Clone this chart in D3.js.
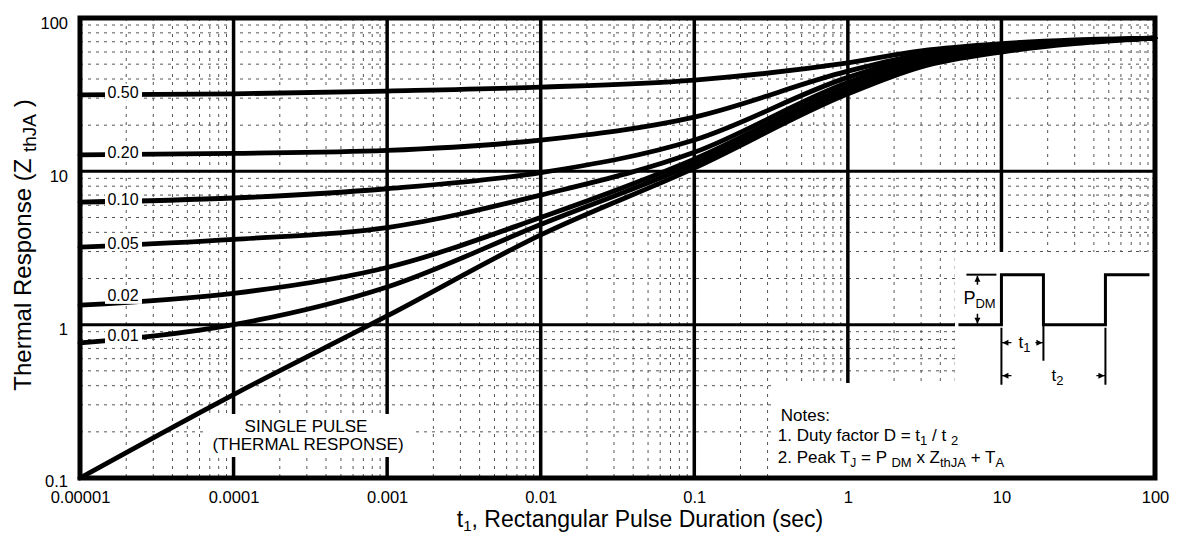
<!DOCTYPE html>
<html><head><meta charset="utf-8">
<script src="https://cdn.jsdelivr.net/npm/d3@7"></script>
<style>body{margin:0;background:#fff} svg{display:block} text{font-family:"Liberation Sans",Arial,Helvetica,sans-serif;fill:#000}</style>
</head><body><svg id="c" width="1193" height="537"></svg>
<script>
// ---- data ----
const durations = [1e-5, 1e-4, 1e-3, 1e-2, 1e-1, 1, 3, 10, 30, 100];
const dutyLabels = ["0.50", "0.20", "0.10", "0.05", "0.02", "0.01"];
const d050 = [31.5, 32, 33.4, 35.4, 39.4, 51, 61, 68, 72, 74];
const d020 = [12.8, 13.1, 13.7, 16, 22.6, 45, 58, 66, 71, 74];
const d010 = [6.3, 6.7, 7.7, 9.8, 16, 41, 56, 65, 70.5, 74];
const d005 = [3.2, 3.6, 4.3, 7.0, 13.3, 38, 54, 64, 70, 74];
const d002 = [1.34, 1.6, 2.36, 5.0, 12, 35.5, 51, 62, 69.5, 74];
const d001 = [0.76, 1.0, 1.76, 4.5, 11.2, 34, 50, 61, 69, 74];
const singlePulse = [0.1, 0.35, 1.14, 3.85, 10.5, 32, 48, 60, 68, 74];
const xTickValues = [1e-5, 1e-4, 1e-3, 1e-2, 1e-1, 1, 10, 100];
const xTickLabels = ["0.00001", "0.0001", "0.001", "0.01", "0.1", "1", "10", "100"];
const yTickValues = [0.1, 1, 10, 100];
const yTickLabels = ["0.1", "1", "10", "100"];

const dutySeries = [d050, d020, d010, d005, d002, d001];

const svg = d3.select("#c");
const x = d3.scaleLog().domain([1e-5, 100]).range([80, 1155]);
const y = d3.scaleLog().domain([0.1, 100]).range([478, 18]);
const X0 = x.range()[0], X1 = x.range()[1], Y0 = y.range()[0], Y1 = y.range()[1];

// ---- minor grid ----
const minorX = [], minorY = [];
for (let e = -5; e < 2; e++) for (let k = 2; k < 10; k++) minorX.push(k * Math.pow(10, e));
for (let e = -1; e < 2; e++) for (let k = 2; k < 10; k++) minorY.push(k * Math.pow(10, e));
const gMinor = svg.append("g").attr("stroke", "#555").attr("stroke-width", 1).attr("stroke-dasharray", "3,5");
gMinor.selectAll("line.vx").data(minorX).join("line")
  .attr("x1", d => x(d)).attr("x2", d => x(d)).attr("y1", Y1).attr("y2", Y0);
gMinor.selectAll("line.hy").data(minorY).join("line")
  .attr("y1", d => y(d)).attr("y2", d => y(d)).attr("x1", X0).attr("x2", X1);

// ---- major grid ----
const gMajor = svg.append("g").attr("stroke", "#000");
gMajor.selectAll("line.v").data([1e-4, 1e-3, 1e-2, 1e-1, 1, 10]).join("line")
  .attr("x1", d => x(d)).attr("x2", d => x(d)).attr("y1", Y1).attr("y2", Y0).attr("stroke-width", 3.5);
gMajor.selectAll("line.h").data([1, 10]).join("line")
  .attr("y1", d => y(d)).attr("y2", d => y(d)).attr("x1", X0).attr("x2", X1).attr("stroke-width", 3);

// ---- white masks (text areas) ----
svg.append("rect").attr("x", 205).attr("y", 414).attr("width", 210).attr("height", 43).attr("fill", "#fff");
svg.append("polygon").attr("fill", "#fff")
  .attr("points", [[955, 252], [X1 - 2, 252], [X1 - 2, Y0 - 2], [776, Y0 - 2], [776, 383], [955, 383]].map(p => p.join(",")).join(" "));

// ---- curves ----
const line = d3.line().x(d => x(d[0])).y(d => y(d[1])).curve(d3.curveMonotoneX);
const allSeries = dutySeries.concat([singlePulse]);
svg.append("g").selectAll("path").data(allSeries).join("path")
  .attr("d", s => line(durations.map((t, i) => [t, s[i]])))
  .attr("fill", "none").attr("stroke", "#000").attr("stroke-width", 4.8).attr("stroke-linecap", "round");

// ---- frame ----
svg.append("rect").attr("x", X0).attr("y", Y1).attr("width", X1 - X0).attr("height", Y0 - Y1)
  .attr("fill", "none").attr("stroke", "#000").attr("stroke-width", 5);

// ---- duty labels on curves ----
const labX = 123;
const lx = Math.log10(x.invert(labX));
const gLab = svg.append("g");
dutySeries.forEach((s, i) => {
  const l0 = Math.log10(s[0]), l1 = Math.log10(s[1]);
  const ly = l0 + (lx + 5) * (l1 - l0);
  const py = y(Math.pow(10, ly)) - (i === 4 ? 6 : 2);
  gLab.append("rect").attr("x", 105).attr("y", py - 9).attr("width", 37).attr("height", 17).attr("fill", "#fff");
  gLab.append("text").attr("x", labX).attr("y", py).attr("dy", "0.35em").attr("text-anchor", "middle")
    .attr("font-size", 16).text(dutyLabels[i]);
});

// ---- axes ----
const xAxis = svg.append("g").attr("transform", `translate(0,${Y0})`)
  .call(d3.axisBottom(x).tickValues(xTickValues).tickFormat((d, i) => xTickLabels[i]).tickSize(0).tickPadding(13));
xAxis.select(".domain").remove();
xAxis.selectAll("text").attr("font-size", 16.5).attr("font-family", '"Liberation Sans",Arial,sans-serif').attr("fill", "#000");
const yAxis = svg.append("g").attr("transform", `translate(${X0},0)`)
  .call(d3.axisLeft(y).tickValues(yTickValues).tickFormat((d, i) => yTickLabels[i]).tickSize(0).tickPadding(12));
yAxis.select(".domain").remove();
yAxis.selectAll("text").attr("font-size", 16.5).attr("font-family", '"Liberation Sans",Arial,sans-serif').attr("fill", "#000")
  .attr("transform", d => `translate(0,${d === 0.1 ? 3 : 5})`);

// ---- axis titles ----
const xt = svg.append("text").attr("x", 640).attr("y", 527).attr("text-anchor", "middle").attr("font-size", 23);
xt.append("tspan").text("t");
xt.append("tspan").attr("font-size", 15).attr("dy", 4).text("1");
xt.append("tspan").attr("dy", -4).text(", Rectangular Pulse Duration (sec)");

const yt = svg.append("text").attr("transform", "translate(31,245) rotate(-90)").attr("text-anchor", "middle").attr("font-size", 24);
yt.append("tspan").text("Thermal Response (Z ");
yt.append("tspan").attr("font-size", 19).attr("dy", 5).text("thJA");
yt.append("tspan").attr("dy", -5).text(" )");

// ---- single pulse annotation ----
svg.append("text").attr("x", 306).attr("y", 432).attr("text-anchor", "middle").attr("font-size", 17).text("SINGLE PULSE");
svg.append("text").attr("x", 308).attr("y", 450).attr("text-anchor", "middle").attr("font-size", 17).text("(THERMAL RESPONSE)");

// ---- notes ----
const nx = x(1) - 70;
svg.append("text").attr("x", nx + 3).attr("y", 421).attr("font-size", 17).text("Notes:");
const n1 = svg.append("text").attr("x", nx).attr("y", 441).attr("font-size", 17);
n1.append("tspan").text("1. Duty factor D = t");
n1.append("tspan").attr("font-size", 13).attr("dy", 4).text("1");
n1.append("tspan").attr("dy", -4).text(" / t ");
n1.append("tspan").attr("font-size", 13).attr("dy", 4).text("2");
const n2 = svg.append("text").attr("x", nx).attr("y", 463).attr("font-size", 17);
n2.append("tspan").text("2. Peak T");
n2.append("tspan").attr("font-size", 12).attr("dy", 4).text("J");
n2.append("tspan").attr("dy", -4).text(" = P ");
n2.append("tspan").attr("font-size", 13).attr("dy", 4).text("DM");
n2.append("tspan").attr("dy", -4).text(" x  Z");
n2.append("tspan").attr("font-size", 13).attr("dy", 4).text("thJA");
n2.append("tspan").attr("dy", -4).text("  + T");
n2.append("tspan").attr("font-size", 13).attr("dy", 4).text("A");

// ---- pulse diagram inset ----
const px0 = x(10), pyb = y(1);
const gp = svg.append("g").attr("stroke", "#000").attr("fill", "none");
gp.append("path").attr("stroke-width", 3)
  .attr("d", `M${px0 - 43},${pyb} H${px0} V${pyb - 50} H${px0 + 42} V${pyb} H${px0 + 104} V${pyb - 50} H${px0 + 148}`);
gp.append("path").attr("stroke-width", 2).attr("d", `M${px0 - 35},${pyb - 50} H${px0 - 5}`);
gp.append("path").attr("stroke-width", 1.5).attr("d", `M${px0 - 24},${pyb - 40} V${pyb - 49} M${px0 - 24},${pyb - 11} V${pyb - 1}`);
gp.append("path").attr("fill", "#000").attr("stroke", "none")
  .attr("d", `M${px0 - 24},${pyb - 49} l-3,6 h6 z M${px0 - 24},${pyb - 1} l-3,-6 h6 z`);
gp.append("path").attr("stroke-width", 2)
  .attr("d", `M${px0},${pyb + 3} V${pyb + 60} M${px0 + 42},${pyb} V${pyb + 36} M${px0 + 104},${pyb + 3} V${pyb + 60}`);
gp.append("path").attr("stroke-width", 1.3)
  .attr("d", `M${px0},${pyb + 18} h10 M${px0 + 42},${pyb + 18} h-8 M${px0},${pyb + 51} h10 M${px0 + 104},${pyb + 51} h-9`);
gp.append("path").attr("fill", "#000").attr("stroke", "none")
  .attr("d", `M${px0 + 1},${pyb + 18} l6,-3 v6 z M${px0 + 41},${pyb + 18} l-6,-3 v6 z M${px0 + 1},${pyb + 51} l6,-3 v6 z M${px0 + 103},${pyb + 51} l-6,-3 v6 z`);
const pdm = svg.append("text").attr("x", px0 - 38).attr("y", pyb - 21).attr("font-size", 18);
pdm.append("tspan").text("P");
pdm.append("tspan").attr("font-size", 13).attr("dy", 4).text("DM");
const t1 = svg.append("text").attr("x", px0 + 17).attr("y", pyb + 23).attr("font-size", 17);
t1.append("tspan").text("t");
t1.append("tspan").attr("font-size", 13).attr("dy", 4).text("1");
const t2 = svg.append("text").attr("x", px0 + 50).attr("y", pyb + 56).attr("font-size", 17);
t2.append("tspan").text("t");
t2.append("tspan").attr("font-size", 13).attr("dy", 4).text("2");
</script></body></html>
